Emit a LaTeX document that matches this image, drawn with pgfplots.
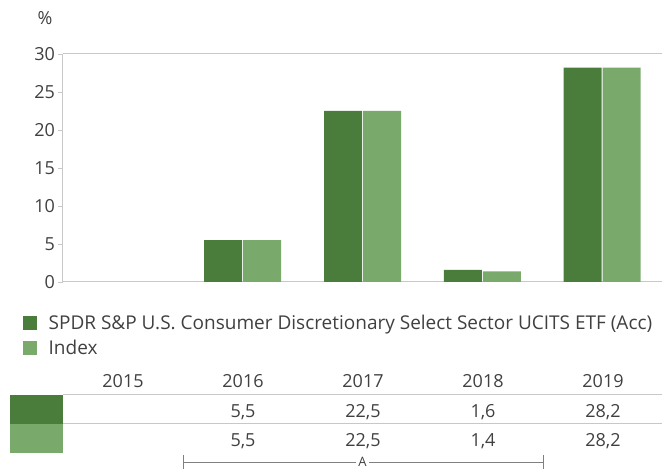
\documentclass[border=0pt]{standalone}
\usepackage{pgfplots}
\pgfplotsset{compat=1.18}
\usepackage{fontspec}
\setmainfont{Open Sans}
\definecolor{dk}{HTML}{4A7C3B}
\definecolor{lt}{HTML}{7AAA6B}
\definecolor{txt}{HTML}{404040}
\definecolor{axg}{HTML}{C8C8C8}
\newcommand\fs{\fontsize{18}{21}\selectfont}
\newcommand\fl{\fontsize{19}{22}\selectfont}
\begin{document}
\begin{tikzpicture}[x=1pt,y=1pt]
\begin{axis}[
  scale only axis,
  width=599pt, height=228pt,
  xmin=-0.5, xmax=4.5, ymin=0, ymax=30,
  ytick={0,5,...,30}, xtick=\empty,
  axis x line*=box, axis y line*=left,
  axis line style={-, draw=axg, line width=1pt},
  tick style={draw=axg, line width=0.8pt},
  major tick length=4.5pt, tick align=outside,
  /pgf/number format/assume math mode=true,
  ticklabel style={font=\fs, text=txt},
  ybar=1pt, bar width=38pt,
  clip=false,
  legend style={draw=none, fill=none, at={(axis description cs:-0.0668,-0.1447)}, anchor=north west,
    font=\fl, text=txt, inner xsep=0pt, inner ysep=0pt, row sep=9pt,
    nodes={inner sep=0pt}},
  legend cell align=left,
  legend image code/.code={\fill[#1] (0pt,-7pt) rectangle (13.5pt,7pt); \path (25.5pt,0pt);},
]
\addplot[fill=dk, draw=none] coordinates {(1,5.5) (2,22.5) (3,1.6) (4,28.2)};
\addplot[fill=lt, draw=none] coordinates {(1,5.5) (2,22.5) (3,1.4) (4,28.2)};
\legend{SPDR S\&P U.S. Consumer Discretionary Select Sector UCITS ETF (Acc), Index}
\coordinate (SW) at (rel axis cs:0,0);
\end{axis}
\pgfresetboundingbox
\begin{scope}[shift={(SW)}, xshift=-63pt, yshift=-188pt]
\useasboundingbox (0,0) rectangle (662,470);
\node[text=txt, font=\fs] at (45,452) {\%};
% table
\fill[dk] (10,46) rectangle (63,75);
\fill[lt] (10,17) rectangle (63,46);
\draw[axg, line width=1pt] (63,75) -- (662,75);
\draw[axg, line width=1pt] (63,46) -- (662,46);
\foreach \yr [count=\i from 0] in {2015,2016,2017,2018,2019}
  \node[text=txt, font=\fs, anchor=base, inner sep=0pt] at (123+120*\i, 82) {\yr};
\node[text=txt, font=\fs, anchor=base, inner sep=0pt] at (243,52) {5,5};
\node[text=txt, font=\fs, anchor=base, inner sep=0pt] at (363,52) {22,5};
\node[text=txt, font=\fs, anchor=base, inner sep=0pt] at (483,52) {1,6};
\node[text=txt, font=\fs, anchor=base, inner sep=0pt] at (603,52) {28,2};
\node[text=txt, font=\fs, anchor=base, inner sep=0pt] at (243,23) {5,5};
\node[text=txt, font=\fs, anchor=base, inner sep=0pt] at (363,23) {22,5};
\node[text=txt, font=\fs, anchor=base, inner sep=0pt] at (483,23) {1,4};
\node[text=txt, font=\fs, anchor=base, inner sep=0pt] at (603,23) {28,2};
% bracket
\draw[gray, line width=0.8pt] (183,15) -- (183,1);
\draw[gray, line width=0.8pt] (543,15) -- (543,1);
\draw[gray, line width=0.8pt] (183,7.5) -- (356,7.5);
\draw[gray, line width=0.8pt] (369,7.5) -- (543,7.5);
\node[text=txt, font=\fontsize{13}{14}\selectfont, inner sep=0pt, anchor=base] at (362.5,3.5) {A};
\end{scope}
\end{tikzpicture}
\end{document}
